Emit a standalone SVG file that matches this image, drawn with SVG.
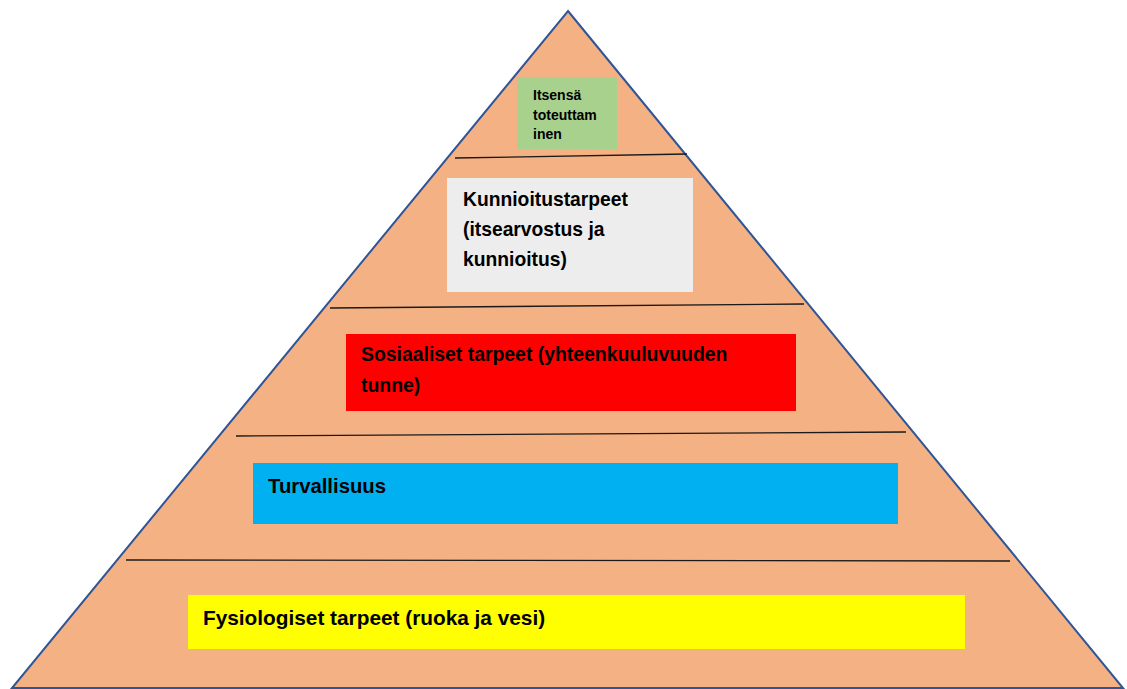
<svg xmlns="http://www.w3.org/2000/svg" width="1127" height="689" viewBox="0 0 1127 689">
<style>
.t{font-family:"Liberation Sans",Arial,sans-serif;font-weight:bold;fill:#000}
.sep{stroke:#1a1a1a;stroke-width:1.3;fill:none}
</style>
<rect width="1127" height="689" fill="#fff"/>
<g id="pyramid">
<polygon points="568,11 1123,688 12,688" fill="#F4B183" stroke="#2F5597" stroke-width="2"/>
</g>
<g id="connectors">
<line class="sep" x1="455" y1="158" x2="687" y2="154"/>
<line class="sep" x1="330" y1="308" x2="804" y2="304"/>
<line class="sep" x1="236" y1="436" x2="906" y2="432"/>
<line class="sep" x1="126" y1="560" x2="1010" y2="561"/>
</g>
<g id="itsensa">
<rect x="517" y="77" width="100" height="72" fill="#A9D18E"/>
<text class="t" font-size="14" x="533" y="100">Itsensä</text>
<text class="t" font-size="14" x="533" y="120">toteuttam</text>
<text class="t" font-size="14" x="533" y="139">inen</text>
</g>
<g id="kunnioitus">
<rect x="447" y="178" width="246" height="114" fill="#EDEDED"/>
<text class="t" font-size="19.3" x="463" y="206">Kunnioitustarpeet</text>
<text class="t" font-size="19.3" x="463" y="236">(itsearvostus ja</text>
<text class="t" font-size="19.3" x="463" y="266">kunnioitus)</text>
</g>
<g id="sosiaaliset">
<rect x="346" y="334" width="450" height="77" fill="#FF0000"/>
<text class="t" font-size="19.4" x="361" y="361">Sosiaaliset tarpeet (yhteenkuuluvuuden</text>
<text class="t" font-size="19.4" x="361" y="392">tunne)</text>
</g>
<g id="turvallisuus">
<rect x="253" y="463" width="645" height="61" fill="#00B0F0"/>
<text class="t" font-size="20.3" x="268" y="493">Turvallisuus</text>
</g>
<g id="fysiologiset">
<rect x="188" y="595" width="777" height="54" fill="#FFFF00"/>
<text class="t" font-size="20.8" x="203" y="625">Fysiologiset tarpeet (ruoka ja vesi)</text>
</g>
</svg>
